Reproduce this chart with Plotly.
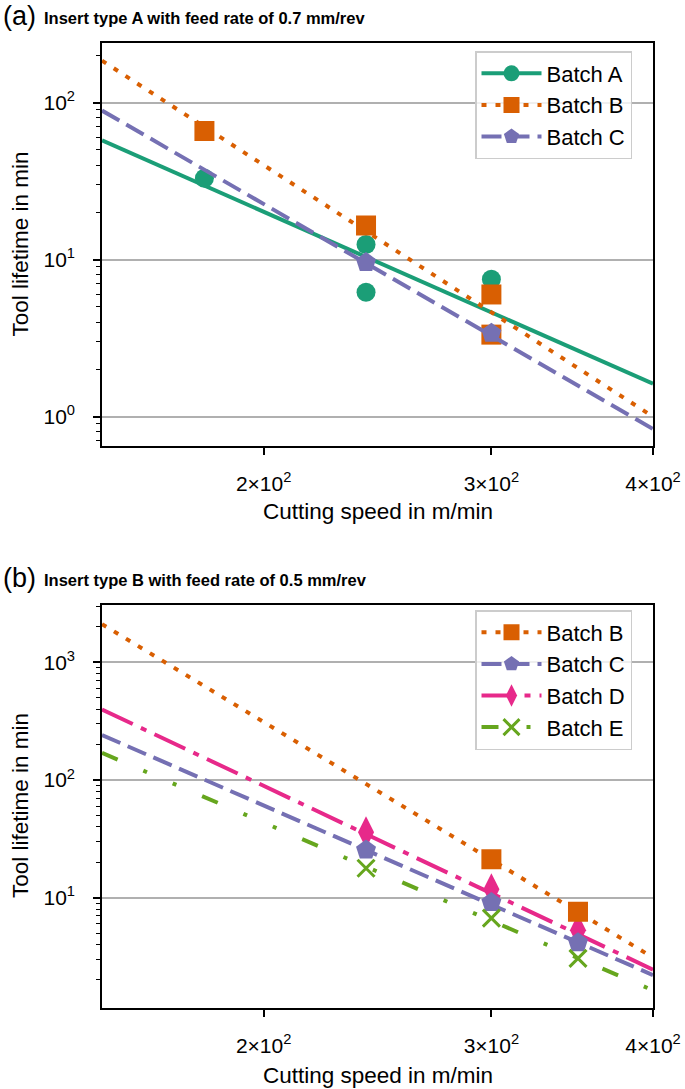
import numpy as np
import plotly.graph_objects as go

# ---------------- data ----------------
# Panel (a): insert type A, feed 0.7 mm/rev
a_A_speed = [180, 240, 240, 300]
a_A_life = [33, 12.5, 6.2, 7.5]
a_B_speed = [180, 240, 300, 300]
a_B_life = [66, 16.5, 6.0, 3.33]
a_C_speed = [240, 300]
a_C_life = [9.6, 3.4]
a_fit_speed = [150, 400]
a_fit_A = [57.5, 1.62]
a_fit_B = [185, 1.0]
a_fit_C = [89, 0.835]

# Panel (b): insert type B, feed 0.5 mm/rev
b_B_speed = [300, 350]
b_B_life = [21.2, 7.6]
b_C_speed = [240, 300, 350]
b_C_life = [25.4, 9.1, 4.15]
b_D_speed = [240, 300, 350]
b_D_life = [36, 11.8, 5.3]
b_E_speed = [240, 300, 350]
b_E_life = [17.8, 6.7, 3.05]
b_fit_speed = [150, 400]
b_fit_B = [2110, 3.1]
b_fit_C = [241, 2.2]
b_fit_D = [397, 2.45]
b_fit_E = [170, 1.63]

x_tickvals = [200, 300, 400]
x_ticktext = ["2×10<sup>2</sup>", "3×10<sup>2</sup>", "4×10<sup>2</sup>"]

# ---------------- styles ----------------
FONT = "Liberation Sans, Arial, sans-serif"
COL = {"A": "#1b9e77", "B": "#d95f02", "C": "#7570b3", "D": "#e7298a", "E": "#66a61e"}
DASH = {"A": "solid", "B": "5px,9px", "C": "20px,8px",
        "D": "34px,9px,6px,9px", "E": "17px,28px,4px,28px,4px,28px"}
SYM = {"A": "circle", "B": "square", "C": "pentagon", "D": "diamond-tall", "E": "x-thin"}
SIZE = {"A": 19, "B": 20, "C": 21, "D": 23, "E": 17}
LW = 4

W, H = 685, 1089
fig = go.Figure()


def marker(b):
    m = dict(symbol=SYM[b], size=SIZE[b], color=COL[b])
    if b == "E":
        m["line"] = dict(color=COL[b], width=3)
    else:
        m["line"] = dict(width=0)
    return m


def add_fit(xa, ya, fx, fy, b):
    fig.add_trace(go.Scatter(x=fx, y=fy, mode="lines", xaxis=xa, yaxis=ya,
                             line=dict(color=COL[b], width=LW, dash=DASH[b]),
                             showlegend=False, hoverinfo="skip"))


def add_pts(xa, ya, x, y, b):
    fig.add_trace(go.Scatter(x=x, y=y, mode="markers", xaxis=xa, yaxis=ya,
                             marker=marker(b), showlegend=False))


def add_leg(b, legend):
    fig.add_trace(go.Scatter(x=[None], y=[None], mode="lines+markers",
                             line=dict(color=COL[b], width=LW, dash=DASH[b]),
                             marker=marker(b), name="Batch " + b,
                             legend=legend, legendgroup=legend + b))


# panel (a)
add_fit("x", "y", a_fit_speed, a_fit_A, "A")
add_pts("x", "y", a_A_speed, a_A_life, "A")
add_fit("x", "y", a_fit_speed, a_fit_B, "B")
add_pts("x", "y", a_B_speed, a_B_life, "B")
add_fit("x", "y", a_fit_speed, a_fit_C, "C")
add_pts("x", "y", a_C_speed, a_C_life, "C")
for b in ["A", "B", "C"]:
    add_leg(b, "legend")

# panel (b)
add_fit("x2", "y2", b_fit_speed, b_fit_B, "B")
add_fit("x2", "y2", b_fit_speed, b_fit_C, "C")
add_fit("x2", "y2", b_fit_speed, b_fit_D, "D")
add_fit("x2", "y2", b_fit_speed, b_fit_E, "E")
add_pts("x2", "y2", b_D_speed, b_D_life, "D")
add_pts("x2", "y2", b_B_speed, b_B_life, "B")
add_pts("x2", "y2", b_C_speed, b_C_life, "C")
add_pts("x2", "y2", b_E_speed, b_E_life, "E")
for b in ["B", "C", "D", "E"]:
    add_leg(b, "legend2")

xdom = [102 / W, 653 / W]
ydom_a = [1 - 446 / H, 1 - 43.3 / H]
ydom_b = [1 - 1007.7 / H, 1 - 605 / H]


def xaxis(anchor):
    return dict(type="log", range=[np.log10(150), np.log10(400)], domain=xdom,
                anchor=anchor, tickmode="array", tickvals=x_tickvals, ticktext=x_ticktext,
                ticks="outside", ticklen=7, tickwidth=1.5, tickcolor="black",
                showline=True, linecolor="black", linewidth=1.6, mirror=True,
                showgrid=False, zeroline=False, ticklabelstandoff=11, automargin=False,
                tickfont=dict(family=FONT, size=21, color="black"))


def yaxis(anchor, rng, dom, majors, minors):
    return dict(type="log", range=rng, domain=dom, anchor=anchor,
                tickmode="array", tickvals=majors,
                ticktext=["10<sup>%d</sup>" % round(np.log10(v)) for v in majors],
                ticks="outside", ticklen=7, tickwidth=1.5, tickcolor="black",
                showline=True, linecolor="black", linewidth=1.6, mirror=True,
                showgrid=True, gridcolor="#b0b0b0", gridwidth=1.5, zeroline=False,
                ticklabelstandoff=14, automargin=False,
                minor=dict(tickmode="array", tickvals=minors, ticks="outside",
                           ticklen=4.5, tickwidth=1.1, tickcolor="black", showgrid=False),
                tickfont=dict(family=FONT, size=21, color="black"))


minors_a = [0.7, 0.8, 0.9] + [m * 10 ** e for e in (0, 1) for m in range(2, 10)] + [200]
minors_b = [m * 10 ** e for e in (0, 1, 2) for m in range(2, 10)] + [2000, 3000]

legend_style = dict(font=dict(family=FONT, size=22, color="black"),
                    bgcolor="rgba(255,255,255,0.8)", bordercolor="#cccccc", borderwidth=1.5,
                    xanchor="left", yanchor="top", tracegroupgap=0, itemwidth=60)

fig.update_layout(
    width=W, height=H, margin=dict(l=0, r=0, t=0, b=0, autoexpand=False),
    paper_bgcolor="white", plot_bgcolor="white",
    font=dict(family=FONT, size=21, color="black"),
    xaxis=xaxis("y"),
    yaxis=yaxis("x", [-0.187, 2.378], ydom_a, [1, 10, 100], minors_a),
    xaxis2=xaxis("y2"),
    yaxis2=yaxis("x2", [0.0654, 3.487], ydom_b, [10, 100, 1000], minors_b),
    legend=dict(x=475 / W, y=1 - 51 / H, **legend_style),
    legend2=dict(x=475 / W, y=1 - 610 / H, **legend_style),
)

ann = []
for ytop, lab, title in [(16, "(a)", "Insert type A with feed rate of 0.7 mm/rev"),
                         (578, "(b)", "Insert type B with feed rate of 0.5 mm/rev")]:
    ann.append(dict(x=1 / W, y=1 - ytop / H, xref="paper", yref="paper", xanchor="left",
                    yanchor="middle", text=lab, showarrow=False,
                    font=dict(family=FONT, size=27, color="black")))
    ann.append(dict(x=42 / W, y=1 - (ytop + 2) / H, xref="paper", yref="paper", xanchor="left",
                    yanchor="middle", text="<b>" + title + "</b>", showarrow=False,
                    font=dict(family=FONT, size=16.5, color="black")))
for yc in [244.5, 806]:
    ann.append(dict(x=20 / W, y=1 - yc / H, xref="paper", yref="paper", xanchor="center",
                    yanchor="middle", text="Tool lifetime in min", textangle=-90,
                    showarrow=False, font=dict(family=FONT, size=22.5, color="black")))
for yc in [512, 1075]:
    ann.append(dict(x=377.5 / W, y=1 - yc / H, xref="paper", yref="paper", xanchor="center",
                    yanchor="middle", text="Cutting speed in m/min",
                    showarrow=False, font=dict(family=FONT, size=22.5, color="black")))
fig.update_layout(annotations=ann)

fig.write_html("out.html", config={"displayModeBar": False},
               post_script="document.body.style.margin='0';document.body.style.overflow='hidden';")
